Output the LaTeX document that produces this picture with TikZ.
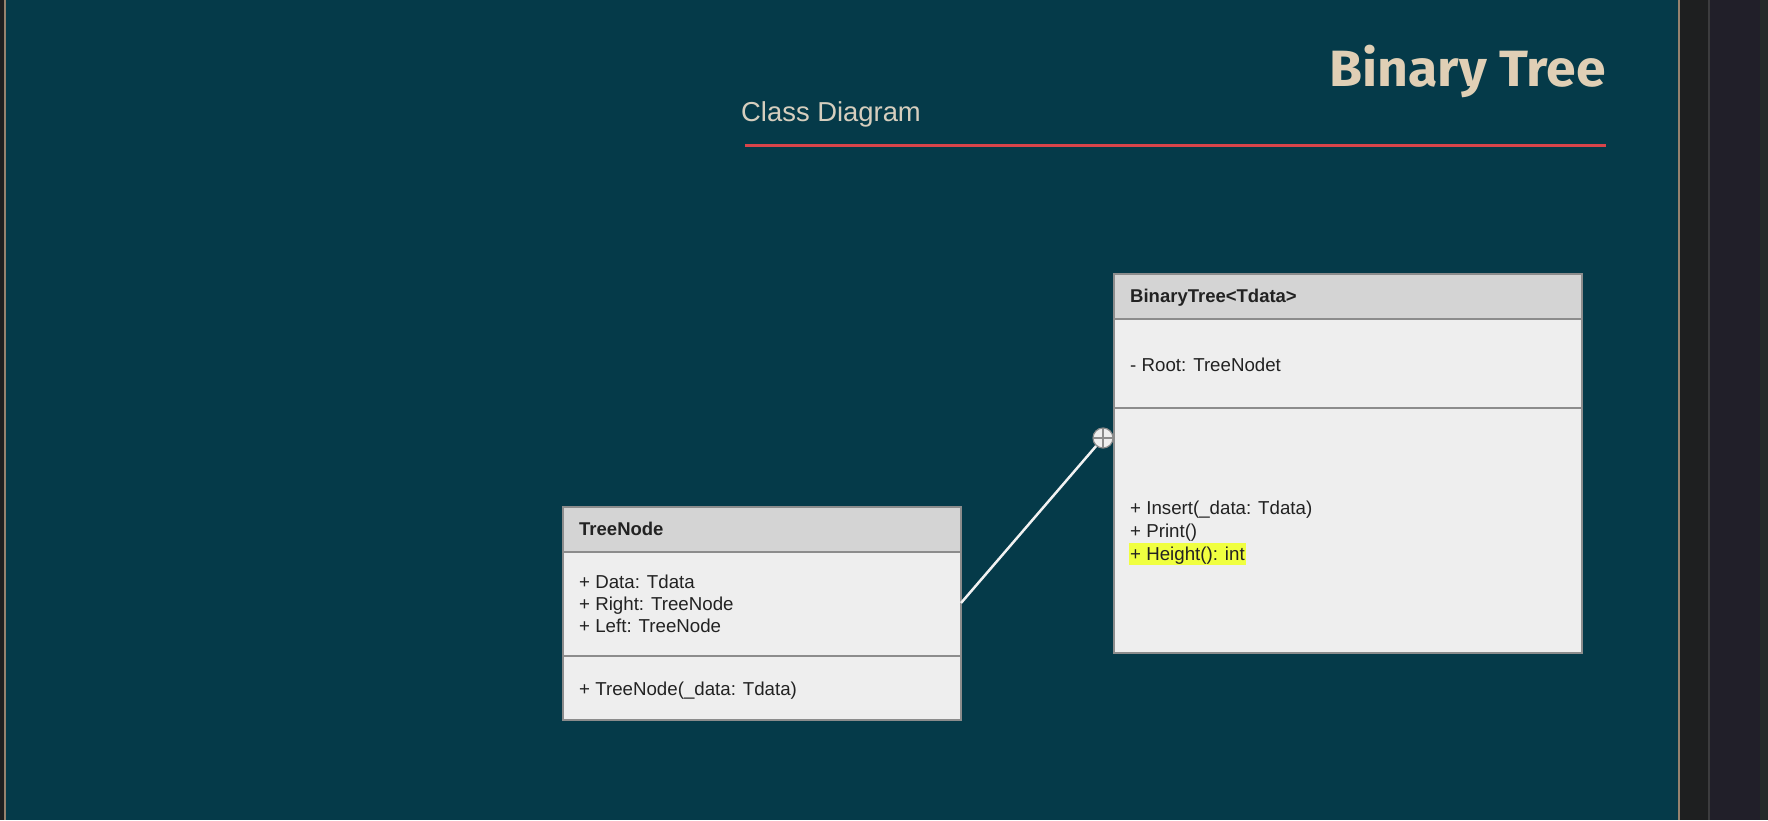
\documentclass[tikz,border=0pt]{standalone}
\usepackage{fontspec}
\setmainfont{Liberation Sans}
\newfontfamily\titlefont{Fira Sans}
\definecolor{teal}{RGB}{5,58,73}
\definecolor{titlecol}{RGB}{224,207,181}
\definecolor{subcol}{RGB}{214,206,190}
\definecolor{redline}{RGB}{217,68,74}
\definecolor{hdrfill}{RGB}{212,212,212}
\definecolor{bodyfill}{RGB}{238,238,238}
\definecolor{boxline}{RGB}{140,140,140}
\definecolor{txt}{RGB}{34,34,34}
\definecolor{hl}{RGB}{240,255,64}
\definecolor{darkA}{RGB}{30,31,32}
\definecolor{darkB}{RGB}{33,31,41}
\definecolor{darkC}{RGB}{38,42,43}
\definecolor{tanline}{RGB}{150,130,110}
\definecolor{grayline}{RGB}{60,60,62}
\tikzset{
  comp/.style={draw=boxline, line width=1.5pt, anchor=north west, inner sep=0pt, outer sep=0pt},
  hdr/.style={comp, fill=hdrfill},
  body/.style={comp, fill=bodyfill},
  member/.style={anchor=west, inner sep=0pt, text height=13.4pt, text depth=0pt, text=txt, font=\fontsize{18.7}{23}\selectfont},
  hdrtext/.style={anchor=west, inner sep=0pt, text height=13.4pt, text depth=0pt, text=txt, font=\fontsize{18.5}{22}\selectfont\bfseries},
  nestcirc/.style={circle, draw=boxline, fill=bodyfill, line width=1.2pt, minimum size=20pt, inner sep=0pt,
    path picture={\draw[boxline, line width=1.5pt] (path picture bounding box.north) -- (path picture bounding box.south)
      (path picture bounding box.west) -- (path picture bounding box.east);}},
  conn/.style={draw=white!90!gray, line width=2.5pt}
}
\begin{document}
\begin{tikzpicture}[x=1pt, y=-1pt]
\useasboundingbox (0,0) rectangle (1768,820);
% backgrounds
\fill[darkA] (0,0) rectangle (4,820);
\fill[tanline] (4,0) rectangle (6,820);
\fill[teal] (6,0) rectangle (1678,820);
\fill[tanline] (1678,0) rectangle (1679.5,820);
\fill[darkA] (1679.5,0) rectangle (1708,820);
\fill[grayline] (1708,0) rectangle (1710,820);
\fill[darkB] (1710,0) rectangle (1760,820);
\fill[darkC] (1760,0) rectangle (1768,820);
% title
\node[anchor=base east, inner sep=0pt, xscale=1.05, text=titlecol, font=\titlefont\fontsize{51}{56}\bfseries\selectfont] (title) at (1606,86) {Binary Tree};
\node[anchor=base west, inner sep=0pt, text=subcol, font=\fontsize{27.4}{31}\selectfont] (subtitle) at (741,121) {Class Diagram};
\draw[redline, line width=3pt] (745,145) -- (1606,145);
% BinaryTree class
\node[hdr, minimum width=468pt, minimum height=45pt] (bth) at (1114,274) {};
\node[body, minimum width=468pt, minimum height=89pt] (bta) at (1114,319) {};
\node[body, minimum width=468pt, minimum height=245pt] (btm) at (1114,408) {};
\node[hdrtext] (btname) at (1130,296) {BinaryTree<Tdata>};
\node[member] (btroot) at (1130,365) {- Root: TreeNodet};
\node[member] (btins) at (1130,508) {+ Insert(\_data: Tdata)};
\node[member] (btprint) at (1130,531) {+ Print()};
\node[member, fill=hl, inner xsep=1pt, inner ysep=4.3pt, xshift=-1pt] (btheight) at (1130,554) {+ Height(): int};
% TreeNode class
\node[hdr, minimum width=398pt, minimum height=45pt] (tnh) at (563,507) {};
\node[body, minimum width=398pt, minimum height=104pt] (tna) at (563,552) {};
\node[body, minimum width=398pt, minimum height=64pt] (tnm) at (563,656) {};
\node[hdrtext] (tnname) at (579,529) {TreeNode};
\node[member] (tndata) at (579,582) {+ Data: Tdata};
\node[member] (tnright) at (579,604) {+ Right: TreeNode};
\node[member] (tnleft) at (579,626) {+ Left: TreeNode};
\node[member] (tnctor) at (579,689) {+ TreeNode(\_data: Tdata)};
% connector
\coordinate (tnport) at (961,603);
\node[nestcirc] (nest) at (1103,438) {};
\draw[conn] (tnport) -- (nest);
\end{tikzpicture}
\end{document}
